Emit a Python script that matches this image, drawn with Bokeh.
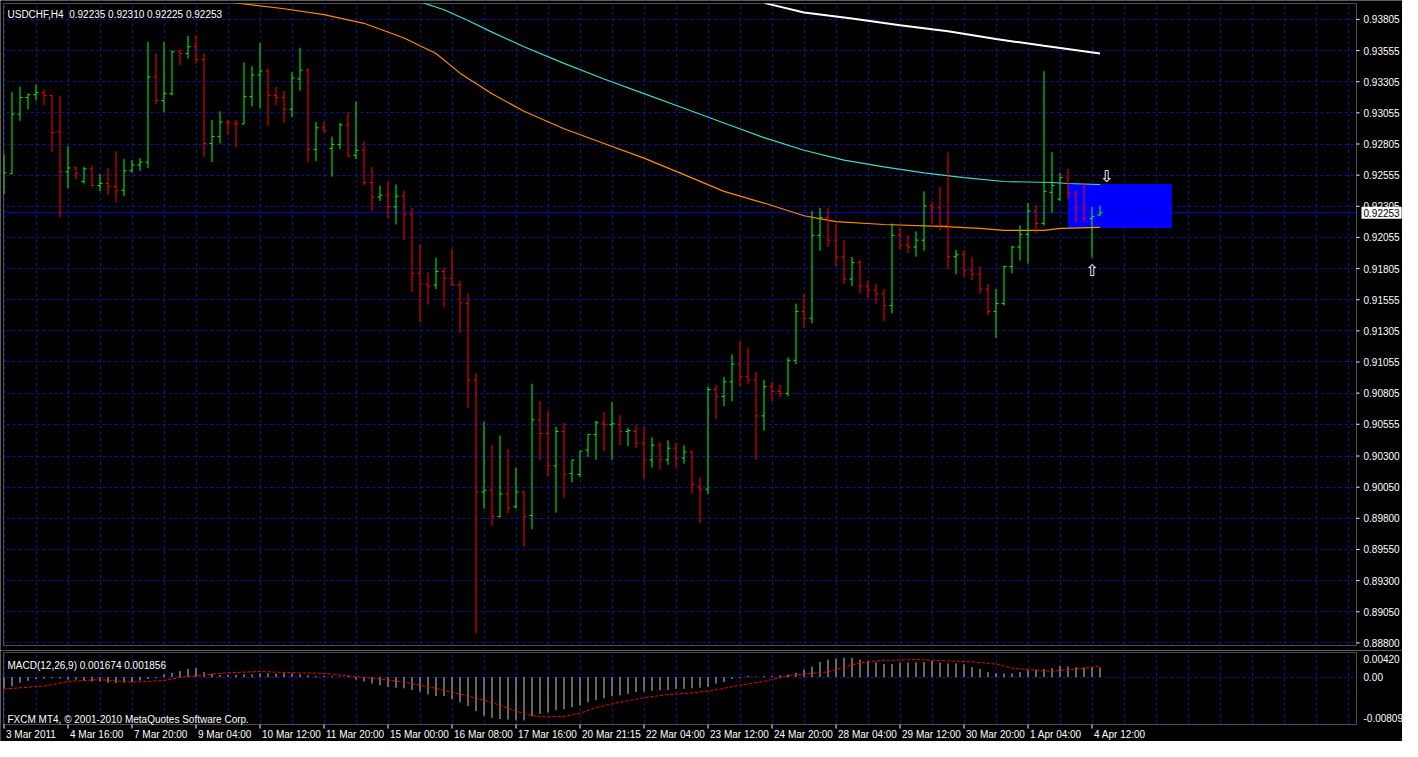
from bokeh.plotting import figure
from bokeh.layouts import column
from bokeh.models import Range1d, FixedTicker, Label, BoxAnnotation
from bokeh.core.properties import value
from bokeh.embed import file_html
from bokeh.resources import INLINE

# ---------------- data ----------------
symbol_title = "USDCHF,H4\u00a0 0.92235 0.92310 0.92225 0.92253"
macd_title = "MACD(12,26,9) 0.001674 0.001856"
copyright_text = "FXCM MT4, \u00a9 2001-2010 MetaQuotes Software Corp."

bar_open = [
    0.92464, 0.92566, 0.93045, 0.93178, 0.93201, 0.93217, 0.93194, 0.92903, 0.92582, 0.92613,
    0.92504, 0.92606, 0.92472, 0.92488, 0.92464, 0.92433, 0.92590, 0.92637, 0.92660, 0.93343,
    0.93154, 0.93209, 0.93546, 0.93531, 0.93586, 0.93484, 0.92809, 0.92864, 0.92982, 0.92974,
    0.92966, 0.93186, 0.93358, 0.93390, 0.93194, 0.93178, 0.93084, 0.93327, 0.93397, 0.92762,
    0.92935, 0.92770, 0.92802, 0.92958, 0.92715, 0.92755, 0.92496, 0.92378, 0.92394, 0.92300,
    0.92386, 0.92237, 0.91767, 0.91680, 0.91673, 0.91782, 0.91727, 0.91673, 0.91524, 0.90912,
    0.90011, 0.90026, 0.89815, 0.89995, 0.89893, 0.90011, 0.89822, 0.90591, 0.90481, 0.90222,
    0.90497, 0.90159, 0.90152, 0.90348, 0.90473, 0.90567, 0.90551, 0.90551, 0.90497, 0.90497,
    0.90403, 0.90269, 0.90387, 0.90269, 0.90363, 0.90285, 0.90332, 0.90058, 0.90034, 0.90834,
    0.90779, 0.90896, 0.91038, 0.90936, 0.90912, 0.90622, 0.90857, 0.90818, 0.90802, 0.91069,
    0.91461, 0.91406, 0.92072, 0.92214, 0.92033, 0.91900, 0.91720, 0.91853, 0.91665, 0.91633,
    0.91602, 0.91508, 0.92072, 0.91994, 0.91978, 0.92033, 0.92308, 0.92292, 0.92151, 0.91900,
    0.91916, 0.91790, 0.91759, 0.91641, 0.91461, 0.91524, 0.91822, 0.91978, 0.92080, 0.92268,
    0.92167, 0.92417, 0.92363, 0.92535, 0.92410, 0.92292, 0.92206, 0.92235]

bar_high = [
    0.92723, 0.93225, 0.93264, 0.93209, 0.93280, 0.93241, 0.93194, 0.93194, 0.92786, 0.92621,
    0.92621, 0.92629, 0.92566, 0.92613, 0.92747, 0.92684, 0.92676, 0.92692, 0.93625, 0.93531,
    0.93625, 0.93554, 0.93570, 0.93672, 0.93680, 0.93531, 0.92998, 0.93068, 0.92998, 0.92998,
    0.93460, 0.93429, 0.93617, 0.93413, 0.93264, 0.93233, 0.93382, 0.93578, 0.93413, 0.92982,
    0.92982, 0.92864, 0.92974, 0.93060, 0.93147, 0.92825, 0.92621, 0.92472, 0.92504, 0.92480,
    0.92433, 0.92292, 0.92002, 0.91775, 0.91892, 0.91814, 0.91963, 0.91704, 0.91602, 0.90967,
    0.90575, 0.90387, 0.90465, 0.90355, 0.90207, 0.90018, 0.90881, 0.90740, 0.90661, 0.90536,
    0.90567, 0.90269, 0.90340, 0.90473, 0.90583, 0.90653, 0.90732, 0.90630, 0.90528, 0.90551,
    0.90536, 0.90450, 0.90410, 0.90426, 0.90410, 0.90387, 0.90348, 0.90128, 0.90857, 0.90873,
    0.90936, 0.91116, 0.91226, 0.91171, 0.90975, 0.90912, 0.90896, 0.90873, 0.91092, 0.91524,
    0.91602, 0.92268, 0.92292, 0.92292, 0.92167, 0.92033, 0.91900, 0.91876, 0.91712, 0.91680,
    0.91641, 0.92167, 0.92135, 0.92072, 0.92104, 0.92425, 0.92347, 0.92464, 0.92739, 0.91955,
    0.91955, 0.91900, 0.91822, 0.91680, 0.91641, 0.91829, 0.91986, 0.92151, 0.92331, 0.92315,
    0.93390, 0.92739, 0.92574, 0.92606, 0.92433, 0.92496, 0.92300, 0.92310]

bar_low = [
    0.92402, 0.92566, 0.92990, 0.93084, 0.93154, 0.93115, 0.92739, 0.92214, 0.92449, 0.92519,
    0.92488, 0.92464, 0.92425, 0.92394, 0.92339, 0.92386, 0.92574, 0.92590, 0.92613, 0.93123,
    0.93060, 0.93194, 0.93437, 0.93491, 0.93452, 0.92700, 0.92660, 0.92809, 0.92880, 0.92778,
    0.92966, 0.93107, 0.93092, 0.92950, 0.93115, 0.92974, 0.93021, 0.93233, 0.92660, 0.92668,
    0.92896, 0.92543, 0.92762, 0.92707, 0.92684, 0.92472, 0.92268, 0.92347, 0.92206, 0.92159,
    0.92033, 0.91618, 0.91375, 0.91516, 0.91641, 0.91492, 0.91665, 0.91288, 0.90685, 0.88874,
    0.89877, 0.89736, 0.89807, 0.89838, 0.89877, 0.89571, 0.89713, 0.90269, 0.90136, 0.89846,
    0.89963, 0.90089, 0.90128, 0.90293, 0.90269, 0.90340, 0.90269, 0.90387, 0.90379, 0.90363,
    0.90112, 0.90207, 0.90191, 0.90230, 0.90207, 0.90238, 0.89995, 0.89760, 0.89995, 0.90598,
    0.90700, 0.90740, 0.90857, 0.90881, 0.90269, 0.90504, 0.90740, 0.90771, 0.90779, 0.91038,
    0.91328, 0.91367, 0.91947, 0.91978, 0.91822, 0.91680, 0.91665, 0.91602, 0.91563, 0.91524,
    0.91383, 0.91445, 0.91955, 0.91931, 0.91900, 0.91947, 0.92167, 0.92112, 0.91798, 0.91759,
    0.91735, 0.91712, 0.91602, 0.91430, 0.91249, 0.91508, 0.91767, 0.91869, 0.91845, 0.92088,
    0.92151, 0.92253, 0.92347, 0.92363, 0.92174, 0.92182, 0.91892, 0.92225]

bar_close = [
    0.92574, 0.93045, 0.93178, 0.93201, 0.93217, 0.93194, 0.92896, 0.92582, 0.92613, 0.92566,
    0.92606, 0.92472, 0.92488, 0.92464, 0.92433, 0.92590, 0.92637, 0.92660, 0.93343, 0.93154,
    0.93209, 0.93546, 0.93531, 0.93586, 0.93484, 0.92809, 0.92864, 0.92982, 0.92974, 0.92966,
    0.93186, 0.93358, 0.93390, 0.93194, 0.93178, 0.93084, 0.93335, 0.93397, 0.92762, 0.92935,
    0.92911, 0.92802, 0.92958, 0.92707, 0.92755, 0.92496, 0.92378, 0.92394, 0.92300, 0.92386,
    0.92237, 0.91767, 0.91680, 0.91665, 0.91782, 0.91727, 0.91673, 0.91531, 0.90912, 0.90011,
    0.90026, 0.89815, 0.89995, 0.89885, 0.90011, 0.89815, 0.90591, 0.90481, 0.90222, 0.90497,
    0.90152, 0.90269, 0.90340, 0.90473, 0.90567, 0.90551, 0.90559, 0.90497, 0.90504, 0.90403,
    0.90269, 0.90387, 0.90269, 0.90363, 0.90285, 0.90332, 0.90073, 0.90034, 0.90834, 0.90779,
    0.90896, 0.91038, 0.90936, 0.90912, 0.90622, 0.90857, 0.90818, 0.90802, 0.91069, 0.91461,
    0.91406, 0.92072, 0.92214, 0.92033, 0.91900, 0.91720, 0.91853, 0.91665, 0.91633, 0.91602,
    0.91508, 0.92072, 0.91994, 0.91978, 0.92033, 0.92308, 0.92292, 0.92151, 0.91900, 0.91916,
    0.91790, 0.91759, 0.91641, 0.91461, 0.91524, 0.91822, 0.91978, 0.92080, 0.92268, 0.92167,
    0.92425, 0.92472, 0.92535, 0.92410, 0.92292, 0.92206, 0.92221, 0.92253]

macd_hist = [
    -0.00192, -0.00154, -0.00096, -0.00064, -0.00032, -0.00027, -0.00021, -0.00027, -0.00043, -0.00043,
    -0.00059, -0.00074, -0.00074, -0.00096, -0.00101, -0.00096, -0.00085, -0.00059, -0.00032, -0.00021,
    0.00048, 0.00074, 0.00101, 0.00138, 0.00154, 0.00085, 0.00059, 0.00037, 0.00037, 0.00037,
    0.00048, 0.00048, 0.00064, 0.00064, 0.00059, 0.00064, 0.00059, 0.00048, 0.00032, 0.00021,
    0.00021, 0.00016, 0.00011, 0.00021, -0.00043, -0.00074, -0.00112, -0.00138, -0.00165, -0.00181,
    -0.00192, -0.00218, -0.00245, -0.00298, -0.00325, -0.00325, -0.00378, -0.00431, -0.00495, -0.00580,
    -0.00660, -0.00697, -0.00715, -0.00724, -0.00740, -0.00740, -0.00670, -0.00628, -0.00606, -0.00564,
    -0.00548, -0.00511, -0.00484, -0.00431, -0.00394, -0.00362, -0.00325, -0.00309, -0.00287, -0.00255,
    -0.00245, -0.00234, -0.00223, -0.00218, -0.00202, -0.00202, -0.00192, -0.00181, -0.00165, -0.00112,
    -0.00085, -0.00032, -0.00016, 0.00021, 0.00011, 0.00016, 0.00021, 0.00027, 0.00043, 0.00074,
    0.00128, 0.00181, 0.00261, 0.00298, 0.00314, 0.00330, 0.00325, 0.00298, 0.00277, 0.00250,
    0.00223, 0.00223, 0.00245, 0.00250, 0.00250, 0.00255, 0.00277, 0.00250, 0.00234, 0.00234,
    0.00218, 0.00170, 0.00138, 0.00085, 0.00064, 0.00064, 0.00064, 0.00085, 0.00117, 0.00128,
    0.00138, 0.00154, 0.00192, 0.00181, 0.00170, 0.00165, 0.00165, 0.001674]

signal_bar = [0, 5, 8, 12, 16, 20, 22, 25, 28, 32,
              36, 40, 43, 46, 50, 54, 58, 61, 62, 64,
              66, 68, 70, 72, 74, 76, 78, 80, 83, 86,
              89, 92, 95, 98, 101, 103, 105, 107, 110, 114,
              118, 121, 124, 126, 129, 131, 133, 135, 137]
signal_val = [-0.00202, -0.00154, -0.00074, -0.00043, -0.00085, -0.00059, -0.00005, 0.00037, 0.00074, 0.00096,
              0.00074, 0.00064, 0.00021, -0.00016, -0.00085, -0.00192, -0.00325, -0.00431, -0.00484, -0.00580,
              -0.00660, -0.00681, -0.00670, -0.00617, -0.00521, -0.00458, -0.00404, -0.00351, -0.00298, -0.00271,
              -0.00218, -0.00138, -0.00074, 0.00021, 0.00064, 0.00090, 0.00170, 0.00245, 0.00287, 0.00298,
              0.00277, 0.00261, 0.00223, 0.00154, 0.00117, 0.00101, 0.00128, 0.00149, 0.001856]

ma_orange_bar = [28, 35, 40, 45, 50, 54, 57, 61, 65, 70, 75, 80,
                 85, 90, 95, 100, 104, 110, 117, 122, 125, 130, 132, 137]
ma_orange_val = [0.93946, 0.93891, 0.93844, 0.93774, 0.93656, 0.93531, 0.93374, 0.93209, 0.93068, 0.92927, 0.92809, 0.92692,
                 0.92559, 0.92425, 0.92331, 0.92229, 0.92182, 0.92159, 0.92143, 0.92127, 0.92112, 0.92112, 0.92127, 0.92135]

ma_cyan_bar = [52, 55, 58, 61, 65, 70, 75, 80, 85, 90,
               95, 100, 105, 110, 115, 120, 125, 131, 133, 137]
ma_cyan_val = [0.93946, 0.93883, 0.93797, 0.93703, 0.93586, 0.93452, 0.93327, 0.93209, 0.93092, 0.92974,
               0.92856, 0.92755, 0.92676, 0.92621, 0.92574, 0.92535, 0.92504, 0.92496, 0.92488, 0.92480]

ma_white_bar = [95, 100, 106, 112, 118, 124, 130, 137]
ma_white_val = [0.93938, 0.93860, 0.93813, 0.93758, 0.93711, 0.93648, 0.93593, 0.93531]

zone_left = [133]
zone_right = [146]
zone_top = [0.92483]
zone_bottom = [0.92130]

current_price = 0.92253
current_price_text = "0.92253"
arrow_bar = [137.8, 136]
arrow_price = [0.92543, 0.91790]
arrow_glyph = ["\u21e9", "\u21e7"]

price_labels = ["0.88800", "0.89050", "0.89300", "0.89550", "0.89800", "0.90050", "0.90300",
                "0.90555", "0.90805", "0.91055", "0.91305", "0.91555", "0.91805", "0.92055",
                "0.92305", "0.92555", "0.92805", "0.93055", "0.93305", "0.93555", "0.93805"]
price_min, price_max = 0.88779, 0.93933

time_tick_bars = [0, 8, 16, 24, 32, 40, 48, 56, 64, 72, 80, 88, 96, 104, 112, 120, 128, 136]
time_labels = ["3 Mar 2011", "4 Mar 16:00", "7 Mar 20:00", "9 Mar 04:00", "10 Mar 12:00",
               "11 Mar 20:00", "15 Mar 00:00", "16 Mar 08:00", "17 Mar 16:00", "20 Mar 21:15",
               "22 Mar 04:00", "23 Mar 12:00", "24 Mar 20:00", "28 Mar 04:00", "29 Mar 12:00",
               "30 Mar 20:00", "1 Apr 04:00", "4 Apr 12:00"]

macd_min, macd_max = -0.00809, 0.00420
macd_tick_vals = [0.00308, 0.0, -0.00697]
macd_tick_labels = ["0.00420", "0.00", "-0.00809"]

# ---------------- styling / layout ----------------
BG = "#000000"
GRID = "#12129a"
FONT = "Liberation Sans"
FS = "10px"
UP = "#00ff00"
DOWN = "#ff0000"
PX_PER_BAR = 8.0

W = 1402
BOX_L_PX = 3                                # chart box left edge (px)
BOX_R_PX = 1356                             # chart box right edge (px)
X_START = -0.0625                           # bar units at the box's left edge
X_END = X_START + (BOX_R_PX - BOX_L_PX) / PX_PER_BAR
x_range = Range1d(X_START - BOX_L_PX / PX_PER_BAR, X_START + (W - BOX_L_PX) / PX_PER_BAR)
grid_bars = list(range(0, 172, 4))
DX = 1 / PX_PER_BAR                         # one pixel in bar units

n = len(bar_open)
idx = list(range(n))
colors = [UP if c >= o else DOWN for o, c in zip(bar_open, bar_close)]


def panel(height, y_range):
    """A figure whose plot frame is its whole canvas; boxes, scales and tags
    are then placed inside it through the figure's own data scales."""
    p = figure(width=W, height=height, x_range=x_range, y_range=y_range,
               x_axis_location=None, y_axis_location=None,
               output_backend="svg", toolbar_location=None,
               background_fill_color=BG, border_fill_color=BG, outline_line_color=None,
               min_border_left=0, min_border_right=0, min_border_top=0, min_border_bottom=0)
    for g in (p.xgrid, p.ygrid):
        g.grid_line_color = GRID
        g.grid_line_dash = "3 3"
        g.grid_line_width = 1
    p.xgrid.ticker = FixedTicker(ticks=grid_bars)
    return p


def mask_outside(p, lo, hi):
    """Black out everything outside the chart box (keeps grid out of the margins)."""
    yr = p.y_range
    p.quad(left=[X_END, x_range.start, x_range.start, x_range.start],
           right=[x_range.end, X_END, X_END, X_START],
           top=[yr.end, lo, yr.end, yr.end],
           bottom=[yr.start, yr.start, hi, yr.start],
           fill_color=BG, line_color=None)


# ---------------- main price panel ----------------
P1_H = 650
BOX1_TOP_PX, BOX1_BOTTOM_PX = 3, 645
k1 = (price_max - price_min) / (BOX1_BOTTOM_PX - BOX1_TOP_PX)
p1 = panel(P1_H, Range1d(price_min - (P1_H - BOX1_BOTTOM_PX) * k1, price_max + BOX1_TOP_PX * k1))

price_ticks = [float(s) for s in price_labels]
p1.ygrid.ticker = FixedTicker(ticks=price_ticks)

p1.quad(left=zone_left, right=zone_right, top=zone_top, bottom=zone_bottom,
        fill_color="#0000ff", line_color=None)
p1.hspan(y=[current_price], line_color="#0000c8", line_width=1)

p1.line(ma_white_bar, ma_white_val, line_color="white", line_width=2)
p1.line(ma_cyan_bar, ma_cyan_val, line_color="#40d8c8", line_width=1.2)
p1.line(ma_orange_bar, ma_orange_val, line_color="#ff8c00", line_width=1.2)

p1.segment(x0=idx, y0=bar_low, x1=idx, y1=bar_high, line_color=colors, line_width=1)
p1.segment(x0=[i - 0.3 for i in idx], y0=bar_open, x1=idx, y1=bar_open, line_color=colors, line_width=1)
p1.segment(x0=idx, y0=bar_close, x1=[i + 0.3 for i in idx], y1=bar_close, line_color=colors, line_width=1)

p1.text(x=arrow_bar, y=arrow_price, text=arrow_glyph, text_color="white",
        text_font=value("DejaVu Sans"), text_font_size="16px",
        text_align="center", text_baseline="middle")

mask_outside(p1, price_min, price_max)

# price scale
m = len(price_ticks)
p1.segment(x0=[X_END] * m, y0=price_ticks, x1=[X_END + 3 * DX] * m, y1=price_ticks,
           line_color="white", line_width=1)
p1.text(x=[X_END + 7 * DX] * m, y=price_ticks, text=price_labels,
        text_color="white", text_font=value(FONT), text_font_size=FS,
        text_align="left", text_baseline="middle")

p1.add_layout(BoxAnnotation(left=X_START, right=X_END, bottom=price_min, top=price_max,
                            fill_alpha=0, line_color="white", line_width=1))
p1.add_layout(Label(x=7, y=P1_H - 14, x_units="screen", y_units="screen", text=symbol_title,
                    text_color="white", text_font=FONT, text_font_size=FS,
                    text_baseline="alphabetic"))
tag_kw = {"padding": 2} if "padding" in Label.properties() else {}
p1.add_layout(Label(x=X_END + 5 * DX, y=current_price, text=current_price_text,
                    text_color="black", text_font=FONT, text_font_size=FS,
                    text_baseline="middle", background_fill_color="white", **tag_kw))

# ---------------- MACD panel ----------------
P2_H = 91
BOX2_TOP_PX, BOX2_BOTTOM_PX = 2, 74
k2 = (macd_max - macd_min) / (BOX2_BOTTOM_PX - BOX2_TOP_PX)
p2 = panel(P2_H, Range1d(macd_min - (P2_H - BOX2_BOTTOM_PX) * k2, macd_max + BOX2_TOP_PX * k2))
p2.ygrid.ticker = FixedTicker(ticks=[0.0])

p2.segment(x0=idx, y0=[0.0] * n, x1=idx, y1=macd_hist, line_color="#c8c8c8", line_width=1)
p2.line(signal_bar, signal_val, line_color="#ff0000", line_width=1, line_dash="3 2")

mask_outside(p2, macd_min, macd_max)

# MACD scale
p2.text(x=[X_END + 7 * DX] * len(macd_tick_vals), y=macd_tick_vals, text=macd_tick_labels,
        text_color="white", text_font=value(FONT), text_font_size=FS,
        text_align="left", text_baseline="middle")

# time scale (MT4 style: label starts right after its tick)
t = len(time_tick_bars)
p2.segment(x0=time_tick_bars, y0=[macd_min] * t, x1=time_tick_bars, y1=[macd_min - 4 * k2] * t,
           line_color="white", line_width=1)
p2.text(x=[b + 2 * DX for b in time_tick_bars], y=[macd_min - 4 * k2] * t, text=time_labels,
        text_color="white", text_font=value(FONT), text_font_size=FS,
        text_align="left", text_baseline="top")

p2.add_layout(BoxAnnotation(left=X_START, right=X_END, bottom=macd_min, top=macd_max,
                            fill_alpha=0, line_color="white", line_width=1))
p2.add_layout(Label(x=7, y=P2_H - 15, x_units="screen", y_units="screen", text=macd_title,
                    text_color="white", text_font=FONT, text_font_size=FS,
                    text_baseline="alphabetic"))
p2.add_layout(Label(x=7, y=P2_H - 69, x_units="screen", y_units="screen", text=copyright_text,
                    text_color="white", text_font=FONT, text_font_size=FS,
                    text_baseline="alphabetic"))

layout = column(p1, p2, spacing=0)
open("out.html", "w").write(file_html(layout, INLINE))
